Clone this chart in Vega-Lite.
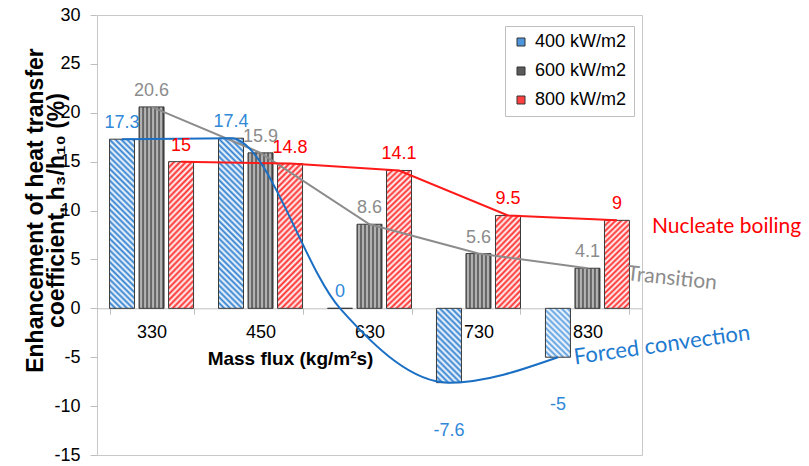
{
  "$schema": "https://vega.github.io/schema/vega-lite/v6.json",
  "width": 545,
  "height": 440,
  "autosize": {"type": "none"},
  "padding": {"left": 97, "top": 15, "right": 167, "bottom": 11},
  "background": "#ffffff",
  "config": {"view": {"stroke": "#c8c8c8", "strokeWidth": 1}, "font": "Liberation Sans"},
  "datasets": {
    "bars": [
      {"flux": "330", "series": "400 kW/m2", "value": 17.3},
      {"flux": "330", "series": "600 kW/m2", "value": 20.6},
      {"flux": "330", "series": "800 kW/m2", "value": 15},
      {"flux": "450", "series": "400 kW/m2", "value": 17.4},
      {"flux": "450", "series": "600 kW/m2", "value": 15.9},
      {"flux": "450", "series": "800 kW/m2", "value": 14.8},
      {"flux": "630", "series": "400 kW/m2", "value": 0},
      {"flux": "630", "series": "600 kW/m2", "value": 8.6},
      {"flux": "630", "series": "800 kW/m2", "value": 14.1},
      {"flux": "730", "series": "400 kW/m2", "value": -7.6},
      {"flux": "730", "series": "600 kW/m2", "value": 5.6},
      {"flux": "730", "series": "800 kW/m2", "value": 9.5},
      {"flux": "830", "series": "400 kW/m2", "value": -5},
      {"flux": "830", "series": "600 kW/m2", "value": 4.1},
      {"flux": "830", "series": "800 kW/m2", "value": 9}
    ]
  },
  "layer": [
    {
      "data": {"name": "bars"},
      "mark": {"type": "bar", "stroke": "#3a3a3a", "strokeWidth": 1},
      "encoding": {
        "x": {
          "field": "flux", "type": "ordinal",
          "scale": {"domain": ["330", "450", "630", "730", "830"], "paddingInner": 0.229, "paddingOuter": 0.115},
          "axis": {
            "orient": "bottom", "offset": -146.7, "domainColor": "#bfbfbf", "domainWidth": 1,
            "tickColor": "#bfbfbf", "tickSize": 6, "tickBand": "extent",
            "labelAngle": 0, "labelFont": "Liberation Sans", "labelFontSize": 18, "labelColor": "#000000", "labelPadding": 9,
            "title": "Mass flux (kg/m²s)", "titleFont": "Liberation Sans", "titleFontSize": 19, "titleFontWeight": "bold",
            "titleColor": "#000000", "titleX": 193, "titleY": 56, "titleBaseline": "alphabetic", "titleAlign": "center"
          }
        },
        "xOffset": {"field": "series", "type": "nominal", "scale": {"domain": ["400 kW/m2", "600 kW/m2", "800 kW/m2"], "paddingInner": 0.153, "paddingOuter": 0}},
        "y": {
          "field": "value", "type": "quantitative",
          "scale": {"domain": [-15, 30], "nice": false, "zero": false},
          "axis": {
            "values": [-15, -10, -5, 0, 5, 10, 15, 20, 25, 30], "labelExpr": "'' + datum.value",
            "domain": false, "grid": false, "tickColor": "#bfbfbf", "tickSize": 7, "labelPadding": 10,
            "labelFont": "Liberation Sans", "labelFontSize": 18, "labelColor": "#000000",
            "title": ["Enhancement of heat transfer", "coefficient, h₃/h₁₀ (%)"],
            "titleFont": "Liberation Sans", "titleFontSize": 23, "titleFontWeight": "bold", "titleColor": "#000000",
            "titleLineHeight": 21, "titleX": -62, "titleY": 195, "titleAngle": -90, "titleBaseline": "middle", "titleAlign": "center"
          }
        },
        "fill": {
          "field": "series", "type": "nominal",
          "scale": {"domain": ["400 kW/m2", "600 kW/m2", "800 kW/m2"], "range": ["#4d94db", "#5a5a5a", "#ff4040"]},
          "legend": {
            "orient": "none", "legendX": 408, "legendY": 11, "title": null, "direction": "vertical",
            "symbolType": "square", "symbolSize": 64, "symbolStrokeColor": "#333333", "symbolStrokeWidth": 1,
            "labelFont": "Liberation Sans", "labelFontSize": 18, "labelColor": "#000000", "labelOffset": 5, "labelLimit": 200,
            "rowPadding": 11, "padding": 7, "strokeColor": "#bfbfbf", "fillColor": "#ffffff"
          },
          "condition": [
            {"test": "datum.series === '400 kW/m2' && datum.value > 12", "value": {"gradient": "linear", "x1": 0, "y1": 1, "x2": 0.165, "y2": -0.123, "stops": [
              {"offset": 0, "color": "#2f7fd0"}, {"offset": 0.015, "color": "#ffffff"}, {"offset": 0.03, "color": "#2f7fd0"}, {"offset": 0.045, "color": "#ffffff"},
              {"offset": 0.06, "color": "#2f7fd0"}, {"offset": 0.075, "color": "#ffffff"}, {"offset": 0.09, "color": "#2f7fd0"}, {"offset": 0.105, "color": "#ffffff"},
              {"offset": 0.12, "color": "#2f7fd0"}, {"offset": 0.135, "color": "#ffffff"}, {"offset": 0.15, "color": "#2f7fd0"}, {"offset": 0.165, "color": "#ffffff"},
              {"offset": 0.18, "color": "#2f7fd0"}, {"offset": 0.195, "color": "#ffffff"}, {"offset": 0.21, "color": "#2f7fd0"}, {"offset": 0.225, "color": "#ffffff"},
              {"offset": 0.24, "color": "#2f7fd0"}, {"offset": 0.255, "color": "#ffffff"}, {"offset": 0.27, "color": "#2f7fd0"}, {"offset": 0.285, "color": "#ffffff"},
              {"offset": 0.3, "color": "#2f7fd0"}, {"offset": 0.315, "color": "#ffffff"}, {"offset": 0.33, "color": "#2f7fd0"}, {"offset": 0.345, "color": "#ffffff"},
              {"offset": 0.36, "color": "#2f7fd0"}, {"offset": 0.375, "color": "#ffffff"}, {"offset": 0.39, "color": "#2f7fd0"}, {"offset": 0.405, "color": "#ffffff"},
              {"offset": 0.42, "color": "#2f7fd0"}, {"offset": 0.435, "color": "#ffffff"}, {"offset": 0.45, "color": "#2f7fd0"}, {"offset": 0.465, "color": "#ffffff"},
              {"offset": 0.48, "color": "#2f7fd0"}, {"offset": 0.495, "color": "#ffffff"}, {"offset": 0.51, "color": "#2f7fd0"}, {"offset": 0.525, "color": "#ffffff"},
              {"offset": 0.54, "color": "#2f7fd0"}, {"offset": 0.555, "color": "#ffffff"}, {"offset": 0.57, "color": "#2f7fd0"}, {"offset": 0.585, "color": "#ffffff"},
              {"offset": 0.6, "color": "#2f7fd0"}, {"offset": 0.615, "color": "#ffffff"}, {"offset": 0.63, "color": "#2f7fd0"}, {"offset": 0.645, "color": "#ffffff"},
              {"offset": 0.66, "color": "#2f7fd0"}, {"offset": 0.675, "color": "#ffffff"}, {"offset": 0.69, "color": "#2f7fd0"}, {"offset": 0.705, "color": "#ffffff"},
              {"offset": 0.72, "color": "#2f7fd0"}, {"offset": 0.735, "color": "#ffffff"}, {"offset": 0.75, "color": "#2f7fd0"}, {"offset": 0.765, "color": "#ffffff"},
              {"offset": 0.78, "color": "#2f7fd0"}, {"offset": 0.795, "color": "#ffffff"}, {"offset": 0.81, "color": "#2f7fd0"}, {"offset": 0.825, "color": "#ffffff"},
              {"offset": 0.84, "color": "#2f7fd0"}, {"offset": 0.855, "color": "#ffffff"}, {"offset": 0.87, "color": "#2f7fd0"}, {"offset": 0.885, "color": "#ffffff"},
              {"offset": 0.9, "color": "#2f7fd0"}, {"offset": 0.915, "color": "#ffffff"}, {"offset": 0.93, "color": "#2f7fd0"}, {"offset": 0.945, "color": "#ffffff"},
              {"offset": 0.96, "color": "#2f7fd0"}, {"offset": 0.975, "color": "#ffffff"}, {"offset": 0.99, "color": "#2f7fd0"}
            ]}},
            {"test": "datum.series === '400 kW/m2' && datum.value < -6", "value": {"gradient": "linear", "x1": 0, "y1": 1, "x2": 0.406, "y2": -0.201, "stops": [
              {"offset": 0, "color": "#2f7fd0"}, {"offset": 0.03, "color": "#ffffff"}, {"offset": 0.06, "color": "#2f7fd0"}, {"offset": 0.09, "color": "#ffffff"},
              {"offset": 0.12, "color": "#2f7fd0"}, {"offset": 0.15, "color": "#ffffff"}, {"offset": 0.18, "color": "#2f7fd0"}, {"offset": 0.21, "color": "#ffffff"},
              {"offset": 0.24, "color": "#2f7fd0"}, {"offset": 0.27, "color": "#ffffff"}, {"offset": 0.3, "color": "#2f7fd0"}, {"offset": 0.33, "color": "#ffffff"},
              {"offset": 0.36, "color": "#2f7fd0"}, {"offset": 0.39, "color": "#ffffff"}, {"offset": 0.42, "color": "#2f7fd0"}, {"offset": 0.45, "color": "#ffffff"},
              {"offset": 0.48, "color": "#2f7fd0"}, {"offset": 0.51, "color": "#ffffff"}, {"offset": 0.54, "color": "#2f7fd0"}, {"offset": 0.57, "color": "#ffffff"},
              {"offset": 0.6, "color": "#2f7fd0"}, {"offset": 0.63, "color": "#ffffff"}, {"offset": 0.66, "color": "#2f7fd0"}, {"offset": 0.69, "color": "#ffffff"},
              {"offset": 0.72, "color": "#2f7fd0"}, {"offset": 0.75, "color": "#ffffff"}, {"offset": 0.78, "color": "#2f7fd0"}, {"offset": 0.81, "color": "#ffffff"},
              {"offset": 0.84, "color": "#2f7fd0"}, {"offset": 0.87, "color": "#ffffff"}, {"offset": 0.9, "color": "#2f7fd0"}, {"offset": 0.93, "color": "#ffffff"},
              {"offset": 0.96, "color": "#2f7fd0"}, {"offset": 0.99, "color": "#ffffff"}
            ]}},
            {"test": "datum.series === '400 kW/m2'", "value": {"gradient": "linear", "x1": 0, "y1": 1, "x2": 0.611, "y2": -0.198, "stops": [
              {"offset": 0, "color": "#5a9ee0"}, {"offset": 0.04, "color": "#ffffff"}, {"offset": 0.08, "color": "#5a9ee0"}, {"offset": 0.12, "color": "#ffffff"},
              {"offset": 0.16, "color": "#5a9ee0"}, {"offset": 0.2, "color": "#ffffff"}, {"offset": 0.24, "color": "#5a9ee0"}, {"offset": 0.28, "color": "#ffffff"},
              {"offset": 0.32, "color": "#5a9ee0"}, {"offset": 0.36, "color": "#ffffff"}, {"offset": 0.4, "color": "#5a9ee0"}, {"offset": 0.44, "color": "#ffffff"},
              {"offset": 0.48, "color": "#5a9ee0"}, {"offset": 0.52, "color": "#ffffff"}, {"offset": 0.56, "color": "#5a9ee0"}, {"offset": 0.6, "color": "#ffffff"},
              {"offset": 0.64, "color": "#5a9ee0"}, {"offset": 0.68, "color": "#ffffff"}, {"offset": 0.72, "color": "#5a9ee0"}, {"offset": 0.76, "color": "#ffffff"},
              {"offset": 0.8, "color": "#5a9ee0"}, {"offset": 0.84, "color": "#ffffff"}, {"offset": 0.88, "color": "#5a9ee0"}, {"offset": 0.92, "color": "#ffffff"},
              {"offset": 0.96, "color": "#5a9ee0"}, {"offset": 1, "color": "#ffffff"}
            ]}},
            {"test": "datum.series === '800 kW/m2' && datum.value > 12", "value": {"gradient": "linear", "x1": 0, "y1": 0, "x2": 0.199, "y2": 1.14, "stops": [
              {"offset": 0, "color": "#ff2a2a"}, {"offset": 0.0175, "color": "#ffffff"}, {"offset": 0.035, "color": "#ff2a2a"}, {"offset": 0.0525, "color": "#ffffff"},
              {"offset": 0.07, "color": "#ff2a2a"}, {"offset": 0.0875, "color": "#ffffff"}, {"offset": 0.105, "color": "#ff2a2a"}, {"offset": 0.1225, "color": "#ffffff"},
              {"offset": 0.14, "color": "#ff2a2a"}, {"offset": 0.1575, "color": "#ffffff"}, {"offset": 0.175, "color": "#ff2a2a"}, {"offset": 0.1925, "color": "#ffffff"},
              {"offset": 0.21, "color": "#ff2a2a"}, {"offset": 0.2275, "color": "#ffffff"}, {"offset": 0.245, "color": "#ff2a2a"}, {"offset": 0.2625, "color": "#ffffff"},
              {"offset": 0.28, "color": "#ff2a2a"}, {"offset": 0.2975, "color": "#ffffff"}, {"offset": 0.315, "color": "#ff2a2a"}, {"offset": 0.3325, "color": "#ffffff"},
              {"offset": 0.35, "color": "#ff2a2a"}, {"offset": 0.3675, "color": "#ffffff"}, {"offset": 0.385, "color": "#ff2a2a"}, {"offset": 0.4025, "color": "#ffffff"},
              {"offset": 0.42, "color": "#ff2a2a"}, {"offset": 0.4375, "color": "#ffffff"}, {"offset": 0.455, "color": "#ff2a2a"}, {"offset": 0.4725, "color": "#ffffff"},
              {"offset": 0.49, "color": "#ff2a2a"}, {"offset": 0.5075, "color": "#ffffff"}, {"offset": 0.525, "color": "#ff2a2a"}, {"offset": 0.5425, "color": "#ffffff"},
              {"offset": 0.56, "color": "#ff2a2a"}, {"offset": 0.5775, "color": "#ffffff"}, {"offset": 0.595, "color": "#ff2a2a"}, {"offset": 0.6125, "color": "#ffffff"},
              {"offset": 0.63, "color": "#ff2a2a"}, {"offset": 0.6475, "color": "#ffffff"}, {"offset": 0.665, "color": "#ff2a2a"}, {"offset": 0.6825, "color": "#ffffff"},
              {"offset": 0.7, "color": "#ff2a2a"}, {"offset": 0.7175, "color": "#ffffff"}, {"offset": 0.735, "color": "#ff2a2a"}, {"offset": 0.7525, "color": "#ffffff"},
              {"offset": 0.77, "color": "#ff2a2a"}, {"offset": 0.7875, "color": "#ffffff"}, {"offset": 0.805, "color": "#ff2a2a"}, {"offset": 0.8225, "color": "#ffffff"},
              {"offset": 0.84, "color": "#ff2a2a"}, {"offset": 0.8575, "color": "#ffffff"}, {"offset": 0.875, "color": "#ff2a2a"}, {"offset": 0.8925, "color": "#ffffff"},
              {"offset": 0.91, "color": "#ff2a2a"}, {"offset": 0.9275, "color": "#ffffff"}, {"offset": 0.945, "color": "#ff2a2a"}, {"offset": 0.9625, "color": "#ffffff"},
              {"offset": 0.98, "color": "#ff2a2a"}, {"offset": 0.9975, "color": "#ffffff"}
            ]}},
            {"test": "datum.series === '800 kW/m2'", "value": {"gradient": "linear", "x1": 0, "y1": 0, "x2": 0.33, "y2": 1.186, "stops": [
              {"offset": 0, "color": "#ff2a2a"}, {"offset": 0.025, "color": "#ffffff"}, {"offset": 0.05, "color": "#ff2a2a"}, {"offset": 0.075, "color": "#ffffff"},
              {"offset": 0.1, "color": "#ff2a2a"}, {"offset": 0.125, "color": "#ffffff"}, {"offset": 0.15, "color": "#ff2a2a"}, {"offset": 0.175, "color": "#ffffff"},
              {"offset": 0.2, "color": "#ff2a2a"}, {"offset": 0.225, "color": "#ffffff"}, {"offset": 0.25, "color": "#ff2a2a"}, {"offset": 0.275, "color": "#ffffff"},
              {"offset": 0.3, "color": "#ff2a2a"}, {"offset": 0.325, "color": "#ffffff"}, {"offset": 0.35, "color": "#ff2a2a"}, {"offset": 0.375, "color": "#ffffff"},
              {"offset": 0.4, "color": "#ff2a2a"}, {"offset": 0.425, "color": "#ffffff"}, {"offset": 0.45, "color": "#ff2a2a"}, {"offset": 0.475, "color": "#ffffff"},
              {"offset": 0.5, "color": "#ff2a2a"}, {"offset": 0.525, "color": "#ffffff"}, {"offset": 0.55, "color": "#ff2a2a"}, {"offset": 0.575, "color": "#ffffff"},
              {"offset": 0.6, "color": "#ff2a2a"}, {"offset": 0.625, "color": "#ffffff"}, {"offset": 0.65, "color": "#ff2a2a"}, {"offset": 0.675, "color": "#ffffff"},
              {"offset": 0.7, "color": "#ff2a2a"}, {"offset": 0.725, "color": "#ffffff"}, {"offset": 0.75, "color": "#ff2a2a"}, {"offset": 0.775, "color": "#ffffff"},
              {"offset": 0.8, "color": "#ff2a2a"}, {"offset": 0.825, "color": "#ffffff"}, {"offset": 0.85, "color": "#ff2a2a"}, {"offset": 0.875, "color": "#ffffff"},
              {"offset": 0.9, "color": "#ff2a2a"}, {"offset": 0.925, "color": "#ffffff"}, {"offset": 0.95, "color": "#ff2a2a"}, {"offset": 0.975, "color": "#ffffff"},
              {"offset": 1, "color": "#ff2a2a"}
            ]}},
            {"test": "datum.series === '600 kW/m2'", "value": {"gradient": "linear", "x1": 0, "y1": 0, "x2": 1, "y2": 0, "stops": [
              {"offset": 0, "color": "#454545"}, {"offset": 0.08, "color": "#d4d4d4"}, {"offset": 0.16, "color": "#454545"}, {"offset": 0.24, "color": "#d4d4d4"},
              {"offset": 0.32, "color": "#454545"}, {"offset": 0.4, "color": "#d4d4d4"}, {"offset": 0.48, "color": "#454545"}, {"offset": 0.56, "color": "#d4d4d4"},
              {"offset": 0.64, "color": "#454545"}, {"offset": 0.72, "color": "#d4d4d4"}, {"offset": 0.8, "color": "#454545"}, {"offset": 0.88, "color": "#d4d4d4"},
              {"offset": 0.96, "color": "#454545"}
            ]}}
          ]
        }
      }
    },
    {
      "data": {"name": "bars"},
      "transform": [{"filter": "datum.series === '600 kW/m2'"}],
      "mark": {"type": "line", "color": "#8c8c8c", "strokeWidth": 2},
      "encoding": {
        "x": {"field": "flux", "type": "ordinal", "scale": {"domain": ["330", "450", "630", "730", "830"]}},
        "xOffset": {"field": "series", "type": "nominal", "scale": {"domain": ["400 kW/m2", "600 kW/m2", "800 kW/m2"]}},
        "y": {"field": "value", "type": "quantitative"}
      }
    },
    {
      "data": {"name": "bars"},
      "transform": [{"filter": "datum.series === '800 kW/m2'"}],
      "mark": {"type": "line", "color": "#ff1a1a", "strokeWidth": 2},
      "encoding": {
        "x": {"field": "flux", "type": "ordinal", "scale": {"domain": ["330", "450", "630", "730", "830"]}},
        "xOffset": {"field": "series", "type": "nominal", "scale": {"domain": ["400 kW/m2", "600 kW/m2", "800 kW/m2"]}},
        "y": {"field": "value", "type": "quantitative"}
      }
    },
    {
      "data": {"name": "bars"},
      "transform": [{"filter": "datum.series === '400 kW/m2'"}],
      "mark": {"type": "line", "color": "#1a6fc4", "strokeWidth": 2, "interpolate": "monotone"},
      "encoding": {
        "x": {"field": "flux", "type": "ordinal", "scale": {"domain": ["330", "450", "630", "730", "830"]}},
        "xOffset": {"field": "series", "type": "nominal", "scale": {"domain": ["400 kW/m2", "600 kW/m2", "800 kW/m2"]}},
        "y": {"field": "value", "type": "quantitative"}
      }
    },
    {
      "data": {"name": "bars"},
      "transform": [{"filter": "datum.value >= 0"}],
      "mark": {"type": "text", "font": "Liberation Sans", "fontSize": 18, "baseline": "bottom", "dy": -7},
      "encoding": {
        "x": {"field": "flux", "type": "ordinal", "scale": {"domain": ["330", "450", "630", "730", "830"]}},
        "xOffset": {"field": "series", "type": "nominal", "scale": {"domain": ["400 kW/m2", "600 kW/m2", "800 kW/m2"]}},
        "y": {"field": "value", "type": "quantitative"},
        "text": {"field": "value", "type": "nominal"},
        "fill": {"condition": [{"test": "datum.series === '400 kW/m2'", "value": "#2f88d8"}, {"test": "datum.series === '600 kW/m2'", "value": "#8c8c8c"}], "value": "#ff0000"}
      }
    },
    {
      "data": {"name": "bars"},
      "transform": [{"filter": "datum.value < 0"}],
      "mark": {"type": "text", "font": "Liberation Sans", "fontSize": 18, "baseline": "top", "dy": 39, "color": "#2f88d8"},
      "encoding": {
        "x": {"field": "flux", "type": "ordinal", "scale": {"domain": ["330", "450", "630", "730", "830"]}},
        "xOffset": {"field": "series", "type": "nominal", "scale": {"domain": ["400 kW/m2", "600 kW/m2", "800 kW/m2"]}},
        "y": {"field": "value", "type": "quantitative"},
        "text": {"field": "value", "type": "nominal"}
      }
    },
    {
      "data": {"values": [{"flux": "830", "value": 8.34, "note": "Nucleate boiling"}]},
      "mark": {"type": "text", "font": "Lato", "fontSize": 21, "color": "#ff0000", "align": "left", "baseline": "middle", "dx": 64.5},
      "encoding": {
        "x": {"field": "flux", "type": "ordinal", "scale": {"domain": ["330", "450", "630", "730", "830"]}},
        "y": {"field": "value", "type": "quantitative"},
        "text": {"field": "note", "type": "nominal"}
      }
    },
    {
      "data": {"values": [{"flux": "830", "value": 3.92, "note": "Transition"}]},
      "mark": {"type": "text", "font": "Lato", "fontSize": 21, "color": "#8c8c8c", "align": "left", "baseline": "middle", "dx": 39.7, "angle": 6},
      "encoding": {
        "x": {"field": "flux", "type": "ordinal", "scale": {"domain": ["330", "450", "630", "730", "830"]}},
        "y": {"field": "value", "type": "quantitative"},
        "text": {"field": "note", "type": "nominal"}
      }
    },
    {
      "data": {"values": [{"flux": "830", "value": -4.83, "note": "Forced convection"}]},
      "mark": {"type": "text", "font": "Lato", "fontSize": 22, "color": "#1f7bd0", "align": "center", "baseline": "middle", "dx": 75.2, "angle": -8},
      "encoding": {
        "x": {"field": "flux", "type": "ordinal", "scale": {"domain": ["330", "450", "630", "730", "830"]}},
        "y": {"field": "value", "type": "quantitative"},
        "text": {"field": "note", "type": "nominal"}
      }
    }
  ]
}
